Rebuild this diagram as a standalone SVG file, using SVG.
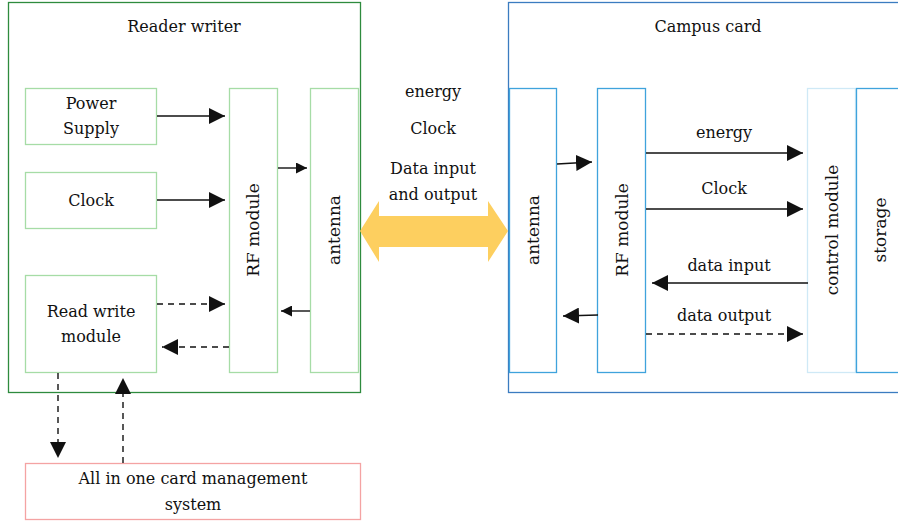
<svg xmlns="http://www.w3.org/2000/svg" width="898" height="523" viewBox="0 0 898 523">
<defs>
<style>
text{font-family:'DejaVu Serif',serif;font-size:16px;fill:#111;text-anchor:middle}
.v{font-size:17px}
.g{fill:#fff;stroke:#a6dca6;stroke-width:1.3}
.b{fill:#fff;stroke:#3fa3dc;stroke-width:1.3}
.ln{stroke:#111;stroke-width:1.4;fill:none}
.d{stroke-dasharray:6,5}
</style>
<marker id="ah" viewBox="0 0 10 10" refX="10" refY="5" markerWidth="16" markerHeight="16" markerUnits="userSpaceOnUse" orient="auto"><path d="M0,0L10,5L0,10z" fill="#111"/></marker>
<marker id="as" viewBox="0 0 10 10" refX="10" refY="5" markerWidth="11" markerHeight="11" markerUnits="userSpaceOnUse" orient="auto"><path d="M0,0L10,5L0,10z" fill="#111"/></marker>
</defs>
<rect width="898" height="523" fill="#fff"/>
<g id="reader-writer"><rect x="8.5" y="2.5" width="352" height="390" fill="#fff" stroke="#2e8b3e" stroke-width="1.3"/><text x="184" y="32">Reader writer</text></g>
<g id="campus-card"><rect x="508.5" y="2.5" width="400" height="390" fill="#fff" stroke="#3b7cc0" stroke-width="1.3"/><text x="708" y="32">Campus card</text></g>
<g id="power-supply"><rect class="g" x="25.5" y="88.5" width="131" height="56"/><text x="91" y="109">Power</text><text x="91" y="134">Supply</text></g>
<g id="clock"><rect class="g" x="25.5" y="172.5" width="131" height="56"/><text x="91" y="206">Clock</text></g>
<g id="read-write"><rect class="g" x="25.5" y="275.5" width="131" height="97"/><text x="91" y="317">Read write</text><text x="91" y="342">module</text></g>
<g id="rf-left"><rect class="g" x="229.5" y="88.5" width="48" height="284"/><text class="v" transform="translate(259,230) rotate(-90)">RF module</text></g>
<g id="antenna-left"><rect class="g" x="310.5" y="88.5" width="48" height="284"/><text class="v" transform="translate(340,230) rotate(-90)">antenna</text></g>
<g id="antenna-right"><rect class="b" x="509.5" y="88.5" width="47" height="284"/><text class="v" transform="translate(539,230) rotate(-90)">antenna</text></g>
<g id="rf-right"><rect class="b" x="597.5" y="88.5" width="48" height="284"/><text class="v" transform="translate(628,230) rotate(-90)">RF module</text></g>
<g id="control-module"><rect x="807.5" y="88.5" width="48" height="284" fill="#fff" stroke="#cfe9f6" stroke-width="1.3"/><text class="v" transform="translate(838,230) rotate(-90)">control module</text></g>
<g id="storage"><rect class="b" x="856.5" y="88.5" width="60" height="284"/><text class="v" transform="translate(886,230) rotate(-90)">storage</text></g>
<g id="management"><rect x="25.5" y="463.5" width="335" height="56" fill="#fff" stroke="#f4a3a3" stroke-width="1.3"/><text x="193" y="484">All in one card management</text><text x="193" y="510">system</text></g>
<g id="wireless"><path d="M360,231L379,201V216H488V201L508,231L488,262V247H379V262Z" fill="#fdcf5f"/><text x="433" y="97">energy</text><text x="433" y="134">Clock</text><text x="433" y="174">Data input</text><text x="433" y="200">and output</text></g>
<g id="connectors">
<line class="ln" x1="157" y1="116" x2="225" y2="116" marker-end="url(#ah)"/>
<line class="ln" x1="157" y1="200" x2="225" y2="200" marker-end="url(#ah)"/>
<line class="ln" x1="278" y1="168" x2="307" y2="168" marker-end="url(#as)"/>
<line class="ln" x1="310" y1="311" x2="281" y2="311" marker-end="url(#as)"/>
<line class="ln d" x1="157" y1="304" x2="225" y2="304" marker-end="url(#ah)"/>
<line class="ln d" x1="229" y1="347" x2="162" y2="347" marker-end="url(#ah)"/>
<line class="ln d" x1="58" y1="373" x2="58" y2="458" marker-end="url(#ah)"/>
<line class="ln d" x1="123" y1="463" x2="123" y2="378" marker-end="url(#ah)"/>
<line class="ln" x1="557" y1="164" x2="592" y2="162" marker-end="url(#ah)"/>
<line class="ln" x1="598" y1="315" x2="563" y2="316" marker-end="url(#ah)"/>
<line class="ln" x1="646" y1="153" x2="803" y2="153" marker-end="url(#ah)"/>
<line class="ln" x1="646" y1="209" x2="803" y2="209" marker-end="url(#ah)"/>
<line class="ln" x1="808" y1="283" x2="652" y2="283" marker-end="url(#ah)"/>
<line class="ln d" x1="646" y1="334" x2="803" y2="334" marker-end="url(#ah)"/>
<text x="724" y="138">energy</text>
<text x="724" y="194">Clock</text>
<text x="729" y="271">data input</text>
<text x="724" y="321">data output</text>
</g>
</svg>
